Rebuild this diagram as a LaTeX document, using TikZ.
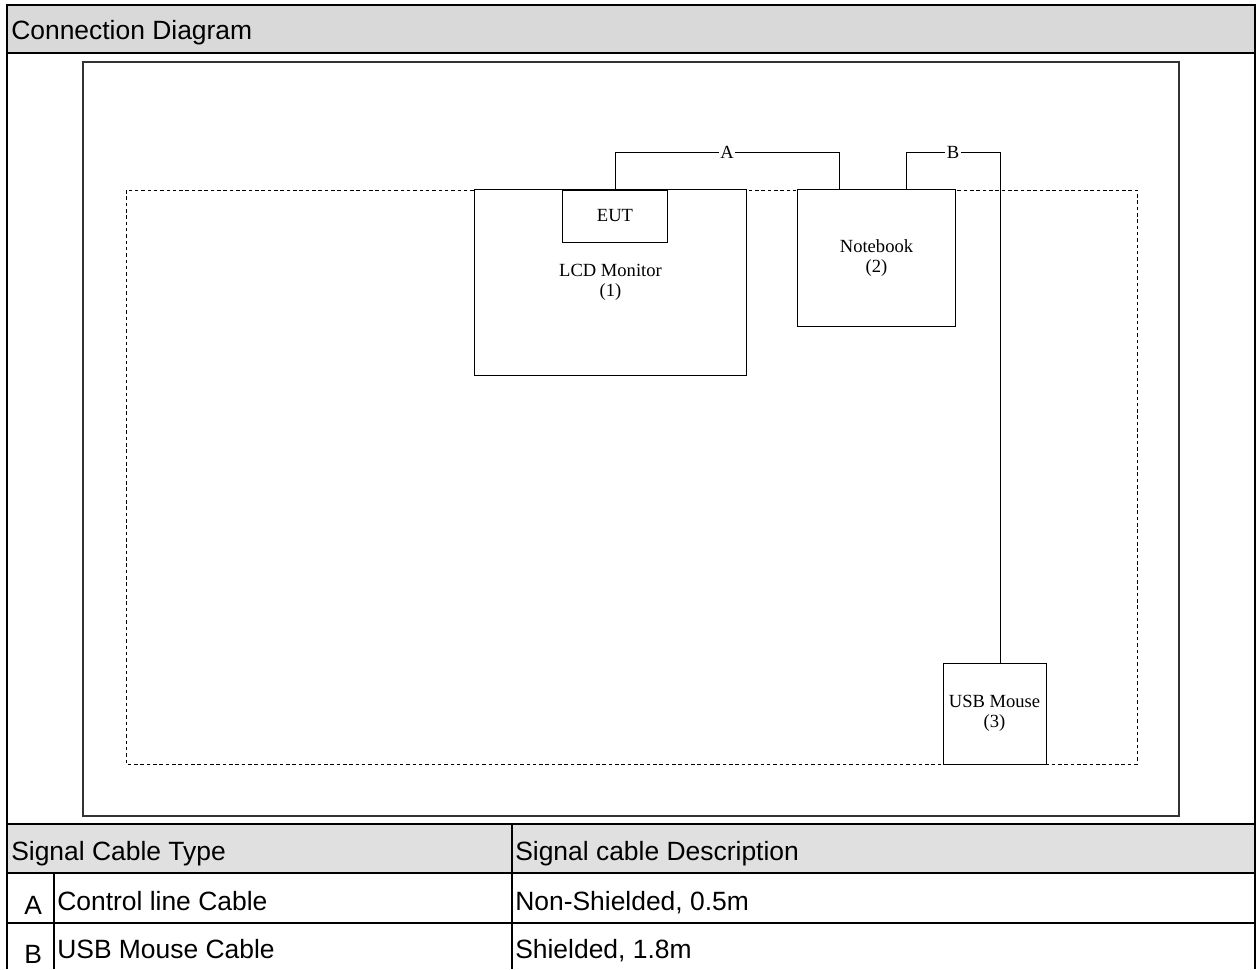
\documentclass[tikz,border=0pt]{standalone}
\usepackage{fontspec}
\setmainfont{Liberation Sans}
\newfontfamily\tnrfont{Liberation Serif}
\usetikzlibrary{positioning, calc}
\definecolor{headgray}{RGB}{217,217,217}
\definecolor{rowgray}{RGB}{224,224,224}

\begin{document}
\begin{tikzpicture}[
        x=0.025cm, y=-0.025cm,
        frame/.style={line width=1.9pt},
        wire/.style={line width=0.7pt},
        unit/.style={draw, line width=0.7pt, fill=white, inner sep=0pt, outer sep=0pt, align=center,
                     font=\tnrfont\fontsize{13.2}{14.4}\selectfont},
        tag/.style={fill=white, inner sep=1pt, font=\tnrfont\fontsize{13.2}{14.4}\selectfont},
        cell/.style={anchor=base west, inner sep=0pt, font=\fontsize{18.8}{21}\selectfont}
    ]
        \useasboundingbox (0,0) rectangle (1258,969);
        \fill[white] (0,0) rectangle (1258,969);

        % grey bands
        \fill[headgray] (7,5) rectangle (1255,53);
        \fill[rowgray]  (7,824) rectangle (1255,873);

        % outer table
        \draw[frame] (7,969) -- (7,5) -- (1255,5) -- (1255,969);
        \draw[frame] (7,53)  -- (1255,53);
        \draw[frame] (7,824) -- (1255,824);
        \draw[frame] (7,873) -- (1255,873);
        \draw[frame] (7,923) -- (1255,923);
        \draw[frame] (512,824) -- (512,969);
        \draw[frame] (54,873)  -- (54,969);

        \node[cell] (title)  at (11,39)   {Connection Diagram};
        \node[cell] (hdtype) at (11,860)  {Signal Cable Type};
        \node[cell] (hddesc) at (515,860) {Signal cable Description};
        \node[cell] (keya)   at (24,914)  {A};
        \node[cell] (keyb)   at (24,963)  {B};
        \node[cell] (typea)  at (57,910)  {Control line Cable};
        \node[cell] (typeb)  at (57,958)  {USB Mouse Cable};
        \node[cell] (desca)  at (515,910) {Non-Shielded, 0.5m};
        \node[cell] (descb)  at (515,958) {Shielded, 1.8m};

        % drawing area
        \draw[line width=0.9pt, black!80] (83,62) rectangle (1179,816);
        \draw[wire, dash pattern=on 2.5pt off 2pt] (126,190) rectangle (1137,764);

        \node[unit, minimum width=6.775cm, minimum height=4.625cm] (lcd)   at (610.5,282.5) {LCD Monitor\\(1)};
        \node[unit, minimum width=2.625cm, minimum height=1.3cm]   (eut)   at (615,216)     {EUT};
        \node[unit, minimum width=3.95cm,  minimum height=3.4cm]   (nb)    at (876.5,258)   {Notebook\\(2)};
        \node[unit, minimum width=2.575cm, minimum height=2.525cm] (mouse) at (994.5,713.5) {USB Mouse\\(3)};

        \coordinate (top) at (0,152);
        \coordinate (nbA) at (839,190);
        \coordinate (nbB) at (906,190);
        \coordinate (msB) at ($(mouse.north)+(5.5,0)$);

        \draw[wire] (eut.north) -- (eut.north |- top) -- node[tag] (taga) {A} (nbA |- top) -- (nbA);
        \draw[wire] (nbB) -- (nbB |- top) -- node[tag] (tagb) {B} (msB |- top) -- (msB);
    \end{tikzpicture}
\end{document}
